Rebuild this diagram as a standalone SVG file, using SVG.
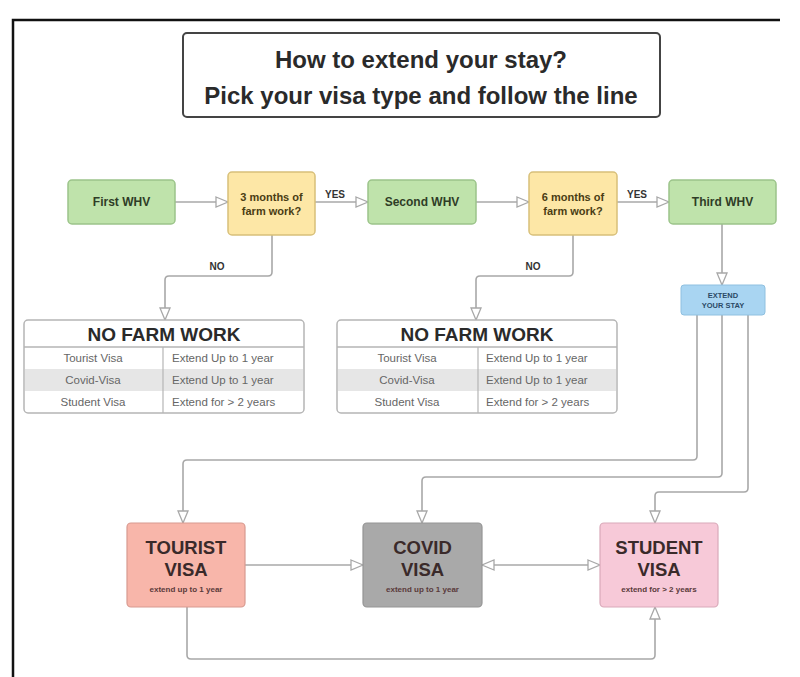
<svg xmlns="http://www.w3.org/2000/svg" width="800" height="677" viewBox="0 0 800 677">
<defs>
<style>
.t{font-family:"Liberation Sans",Arial,sans-serif;}
.b{font-weight:bold;}
.conn{fill:none;stroke:#a8a8a8;stroke-width:1.6;}
.green{fill:#bfe3ab;stroke:#9cc48a;stroke-width:1.5;}
.yellow{fill:#fde7a6;stroke:#d8c07a;stroke-width:1.5;}
.node-txt{fill:#2f3d27;font-size:12px;font-weight:bold;}
.q-txt{fill:#4a3d14;font-size:11px;font-weight:bold;}
.lbl{fill:#333;font-size:10px;font-weight:bold;}
.cell{fill:#666;font-size:11.5px;}
.big{font-size:18.5px;font-weight:bold;fill:#3a2a2a;}
.small{font-size:8px;font-weight:bold;fill:#5a3a3a;}
</style>
<marker id="arr" viewBox="0 0 14 12" refX="13" refY="6" markerWidth="14" markerHeight="12" markerUnits="userSpaceOnUse" orient="auto-start-reverse">
<path d="M1,1 L13,6 L1,11 Z" fill="#fff" stroke="#a8a8a8" stroke-width="1.3"/>
</marker>
</defs>
<rect width="800" height="677" fill="#fff"/>
<!-- frame -->
<path d="M13,677 V20 H780" fill="none" stroke="#111" stroke-width="2.5"/>

<g id="title">
<rect x="183" y="33" width="477" height="84" rx="4" fill="#fff" stroke="#444" stroke-width="2"/>
<text class="t b" x="421" y="68" text-anchor="middle" font-size="24" fill="#2a2a2a">How to extend your stay?</text>
<text class="t b" x="421" y="104" text-anchor="middle" font-size="24" fill="#2a2a2a">Pick your visa type and follow the line</text>
</g>

<g id="connectors">
<path class="conn" d="M175,202 H228" marker-end="url(#arr)"/>
<path class="conn" d="M315,202 H368" marker-end="url(#arr)"/>
<path class="conn" d="M476,202 H529" marker-end="url(#arr)"/>
<path class="conn" d="M617,202 H669" marker-end="url(#arr)"/>
<path class="conn" d="M722,224 V285" marker-end="url(#arr)"/>
<path class="conn" d="M272,235 V272 Q272,276 268,276 H169 Q165,276 165,280 V320" marker-end="url(#arr)"/>
<path class="conn" d="M573,235 V272 Q573,276 569,276 H480 Q476,276 476,280 V320" marker-end="url(#arr)"/>
<path class="conn" d="M697,315 V456 Q697,460 693,460 H187 Q183,460 183,464 V523" marker-end="url(#arr)"/>
<path class="conn" d="M722,315 V473 Q722,477 718,477 H426 Q422,477 422,481 V523" marker-end="url(#arr)"/>
<path class="conn" d="M748,315 V488 Q748,492 744,492 H659 Q655,492 655,496 V523" marker-end="url(#arr)"/>
<path class="conn" d="M245,565 H363" marker-end="url(#arr)"/>
<path class="conn" d="M482,565 H600" marker-start="url(#arr)" marker-end="url(#arr)"/>
<path class="conn" d="M187,607 V655 Q187,659 191,659 H651 Q655,659 655,655 V607" marker-end="url(#arr)"/>
<text class="t lbl" x="335" y="198" text-anchor="middle">YES</text>
<text class="t lbl" x="637" y="198" text-anchor="middle">YES</text>
<text class="t lbl" x="217" y="270" text-anchor="middle">NO</text>
<text class="t lbl" x="533" y="270" text-anchor="middle">NO</text>
</g>

<g id="first-whv">
<rect class="green" x="68" y="180" width="107" height="44" rx="4"/>
<text class="t node-txt" x="121.5" y="206" text-anchor="middle">First WHV</text>
</g>
<g id="q-3months">
<rect class="yellow" x="228" y="172" width="87" height="63" rx="4"/>
<text class="t q-txt" x="271.5" y="201" text-anchor="middle">3 months of</text>
<text class="t q-txt" x="271.5" y="215" text-anchor="middle">farm work?</text>
</g>
<g id="second-whv">
<rect class="green" x="368" y="180" width="108" height="44" rx="4"/>
<text class="t node-txt" x="422" y="206" text-anchor="middle">Second WHV</text>
</g>
<g id="q-6months">
<rect class="yellow" x="529" y="172" width="88" height="63" rx="4"/>
<text class="t q-txt" x="573" y="201" text-anchor="middle">6 months of</text>
<text class="t q-txt" x="573" y="215" text-anchor="middle">farm work?</text>
</g>
<g id="third-whv">
<rect class="green" x="669" y="180" width="107" height="44" rx="4"/>
<text class="t node-txt" x="722.5" y="206" text-anchor="middle">Third WHV</text>
</g>
<g id="extend">
<rect x="681" y="285" width="84" height="30" rx="3" fill="#a9d5f2" stroke="#8fc0e0" stroke-width="1"/>
<text class="t b" x="723" y="298" text-anchor="middle" font-size="7.5" fill="#2b4a66">EXTEND</text>
<text class="t b" x="723" y="308" text-anchor="middle" font-size="7.5" fill="#2b4a66">YOUR STAY</text>
</g>

<g id="table-1">
<rect x="24" y="320" width="280" height="93" rx="4" fill="#fff" stroke="#b5b5b5" stroke-width="1.5"/>
<rect x="25" y="369" width="278" height="22" fill="#e6e6e6"/>
<line x1="24" y1="347" x2="304" y2="347" stroke="#b5b5b5" stroke-width="1.5"/>
<line x1="163" y1="347" x2="163" y2="413" stroke="#b5b5b5" stroke-width="1.2"/>
<text class="t b" x="164" y="341" text-anchor="middle" font-size="19" fill="#2a2a2a">NO FARM WORK</text>
<text class="t cell" x="93" y="362" text-anchor="middle">Tourist Visa</text>
<text class="t cell" x="93" y="384" text-anchor="middle">Covid-Visa</text>
<text class="t cell" x="93" y="406" text-anchor="middle">Student Visa</text>
<text class="t cell" x="172" y="362">Extend Up to 1 year</text>
<text class="t cell" x="172" y="384">Extend Up to 1 year</text>
<text class="t cell" x="172" y="406">Extend for &gt; 2 years</text>
</g>

<g id="table-2">
<rect x="337" y="320" width="280" height="93" rx="4" fill="#fff" stroke="#b5b5b5" stroke-width="1.5"/>
<rect x="338" y="369" width="278" height="22" fill="#e6e6e6"/>
<line x1="337" y1="347" x2="617" y2="347" stroke="#b5b5b5" stroke-width="1.5"/>
<line x1="478" y1="347" x2="478" y2="413" stroke="#b5b5b5" stroke-width="1.2"/>
<text class="t b" x="477" y="341" text-anchor="middle" font-size="19" fill="#2a2a2a">NO FARM WORK</text>
<text class="t cell" x="407" y="362" text-anchor="middle">Tourist Visa</text>
<text class="t cell" x="407" y="384" text-anchor="middle">Covid-Visa</text>
<text class="t cell" x="407" y="406" text-anchor="middle">Student Visa</text>
<text class="t cell" x="486" y="362">Extend Up to 1 year</text>
<text class="t cell" x="486" y="384">Extend Up to 1 year</text>
<text class="t cell" x="486" y="406">Extend for &gt; 2 years</text>
</g>

<g id="tourist-visa">
<rect x="127" y="523" width="118" height="84" rx="4" fill="#f8b6aa" stroke="#d89a90" stroke-width="1.2"/>
<text class="t big" x="186" y="554" text-anchor="middle">TOURIST</text>
<text class="t big" x="186" y="576" text-anchor="middle">VISA</text>
<text class="t small" x="186" y="592" text-anchor="middle">extend up to 1 year</text>
</g>
<g id="covid-visa">
<rect x="363" y="523" width="119" height="84" rx="4" fill="#a9a9a9" stroke="#959595" stroke-width="1.2"/>
<text class="t big" x="422.5" y="554" text-anchor="middle" fill="#333">COVID</text>
<text class="t big" x="422.5" y="576" text-anchor="middle" fill="#333">VISA</text>
<text class="t small" x="422.5" y="592" text-anchor="middle" fill="#3a3a3a">extend up to 1 year</text>
</g>
<g id="student-visa">
<rect x="600" y="523" width="118" height="84" rx="4" fill="#f7c9d8" stroke="#d9a9b9" stroke-width="1.2"/>
<text class="t big" x="659" y="554" text-anchor="middle">STUDENT</text>
<text class="t big" x="659" y="576" text-anchor="middle">VISA</text>
<text class="t small" x="659" y="592" text-anchor="middle">extend for &gt; 2 years</text>
</g>
</svg>
